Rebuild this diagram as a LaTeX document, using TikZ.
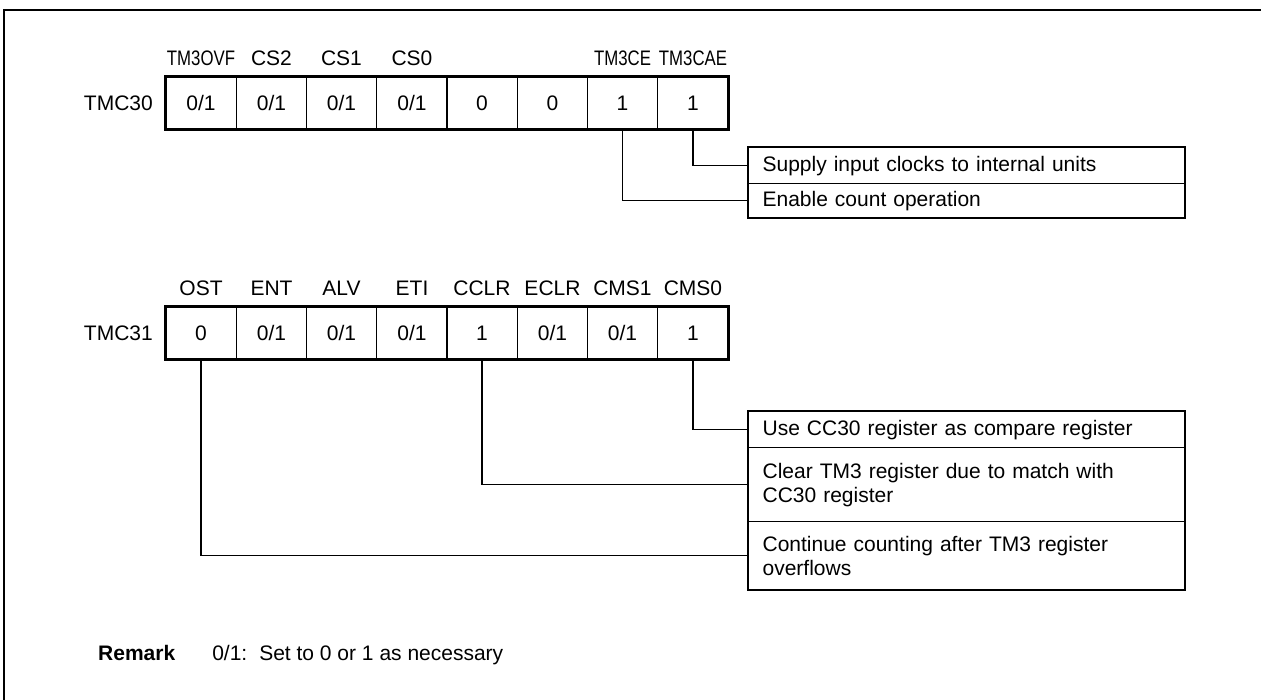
\documentclass[tikz,border=0pt]{standalone}
\usepackage{fontspec}
\setmainfont{Liberation Sans}
\newcommand\cond[1]{\scalebox{0.8}[1]{#1}}
\begin{document}
\begin{tikzpicture}[x=1pt,y=-1pt,every node/.style={font=\fontsize{21}{24}\selectfont},
  c/.style={draw,line width=1pt,minimum width=70.25pt,minimum height=52pt,inner sep=0pt,text height=15pt,text depth=0pt},
  bit/.style={anchor=base,inner sep=0pt},
  reg/.style={anchor=east,inner sep=0pt,text height=15pt,text depth=0pt},
  d/.style={draw,line width=1.2pt,anchor=north west,minimum width=436pt,text width=408pt,inner xsep=14pt,inner ysep=0pt,align=left},
  outer/.style={line width=2.4pt},
  conn/.style={line width=1.2pt}]
\useasboundingbox (0,0) rectangle (1261,700);
\draw[line width=2.7pt] (4,700)--(4,10)--(1261,10);
\node[reg] (tmc30) at (153,103) {TMC30};
\node[bit] (ovfb) at (201,65.5) {\cond{TM3OVF}};
\node[bit] (cs2) at (271.5,65.5) {CS2};
\node[bit] (cs1) at (341.5,65.5) {CS1};
\node[bit] (cs0) at (412,65.5) {CS0};
\node[bit] (ce) at (622.5,65.5) {\cond{TM3CE}};
\node[bit] (cae) at (693,65.5) {\cond{TM3CAE}};
\node[c] (a1) at (201,103) {0/1};
\node[c] (a2) at (271.5,103) {0/1};
\node[c] (a3) at (341.5,103) {0/1};
\node[c] (a4) at (412,103) {0/1};
\node[c] (a5) at (482,103) {0};
\node[c] (a6) at (552.5,103) {0};
\node[c] (a7) at (622.5,103) {1};
\node[c] (a8) at (693,103) {1};
\draw[outer] (a1.north west) rectangle (a8.south east);
\node[d,minimum height=36pt] (clk) at (748,147) {Supply input clocks to internal units};
\node[d,minimum height=34pt] (cnt) at (748,183) {Enable count operation};
\draw[outer] (clk.north west) rectangle (cnt.south east);
\draw[conn] (a8.south)|-(clk.west);
\draw[conn] (a7.south)|-(cnt.west);
\node[reg] (tmc31) at (153,333) {TMC31};
\node[bit] (ost) at (201,295.5) {OST};
\node[bit] (ent) at (271.5,295.5) {ENT};
\node[bit] (alv) at (341.5,295.5) {ALV};
\node[bit] (eti) at (412,295.5) {ETI};
\node[bit] (cclr) at (482,295.5) {CCLR};
\node[bit] (eclr) at (552.5,295.5) {ECLR};
\node[bit] (cms1) at (622.5,295.5) {CMS1};
\node[bit] (cms0) at (693,295.5) {CMS0};
\node[c] (b1) at (201,333) {0};
\node[c] (b2) at (271.5,333) {0/1};
\node[c] (b3) at (341.5,333) {0/1};
\node[c] (b4) at (412,333) {0/1};
\node[c] (b5) at (482,333) {1};
\node[c] (b6) at (552.5,333) {0/1};
\node[c] (b7) at (622.5,333) {0/1};
\node[c] (b8) at (693,333) {1};
\draw[outer] (b1.north west) rectangle (b8.south east);
\node[d,minimum height=36pt] (cmp) at (748,411) {Use CC30 register as compare register};
\node[d,minimum height=74pt] (clr) at (748,447) {Clear TM3 register due to match with\\CC30 register};
\node[d,minimum height=68pt] (ovf) at (748,521) {Continue counting after TM3 register\\overflows};
\draw[outer] (cmp.north west) rectangle (ovf.south east);
\draw[conn] (b8.south)|-(cmp.west);
\draw[conn] (b5.south)|-(clr.west);
\draw[conn] (b1.south)|-(ovf.west);
\node[anchor=base west,inner sep=0pt] (remark) at (98,660) {\textbf{Remark}\hspace{37pt}0/1:\hspace{12pt}Set to 0 or 1 as necessary};
\end{tikzpicture}
\end{document}
